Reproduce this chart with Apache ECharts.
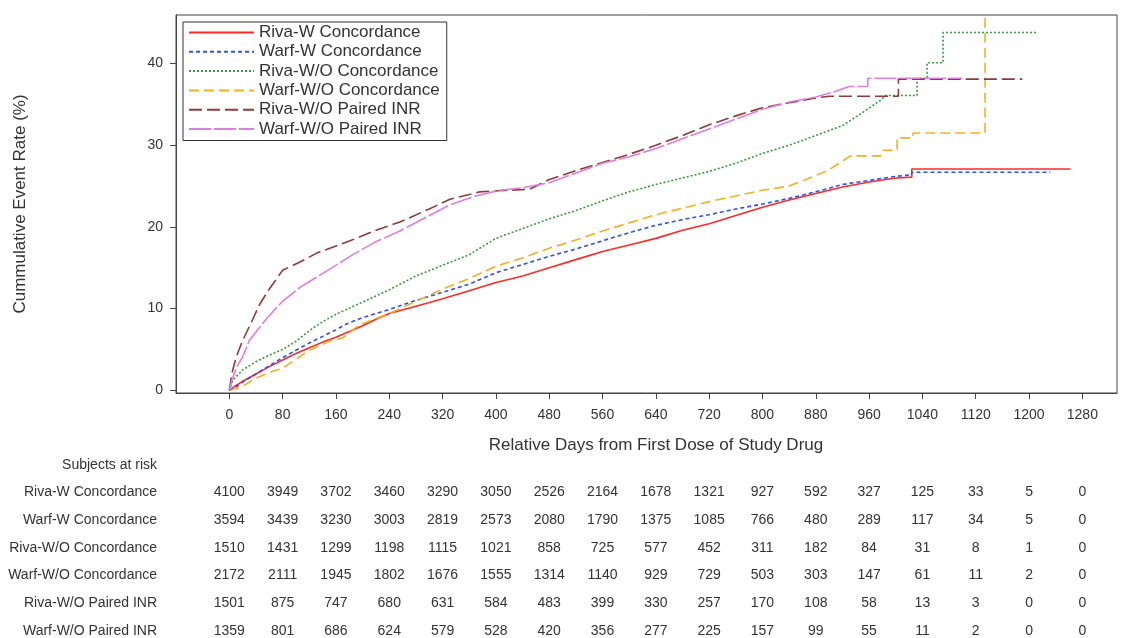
<!DOCTYPE html>
<html><head><meta charset="utf-8">
<script src="https://cdn.jsdelivr.net/npm/echarts@6/dist/echarts.min.js"></script>
<style>html,body{margin:0;padding:0;background:#fff}#c{width:1123px;height:638px}</style>
</head><body><div id="c"></div>
<script>
const seriesNames = ['Riva-W Concordance','Warf-W Concordance','Riva-W/O Concordance','Warf-W/O Concordance','Riva-W/O Paired INR','Warf-W/O Paired INR'];
const xTicks = [0,80,160,240,320,400,480,560,640,720,800,880,960,1040,1120,1200,1280];
const yTicks = [0,10,20,30,40];

const rivaW = [[0,0],[10,0.6],[20,1.1],[40,2.0],[60,2.9],[80,3.7],[100,4.5],[120,5.2],[140,5.9],[160,6.5],[180,7.2],[200,7.9],[220,8.7],[240,9.4],[280,10.3],[320,11.2],[360,12.2],[400,13.2],[440,14.0],[480,15.0],[520,16.0],[560,17.0],[600,17.8],[640,18.6],[680,19.6],[720,20.4],[760,21.4],[800,22.4],[840,23.3],[880,24.1],[920,24.9],[960,25.5],[1000,26.0],[1024,26.1],[1024,27.1],[1262,27.1]];
const warfW = [[0,0],[10,0.4],[20,1.0],[40,2.0],[60,3.0],[80,4.0],[100,4.9],[120,5.8],[140,6.6],[160,7.4],[175,8.1],[200,8.9],[240,9.9],[280,11.0],[320,12.0],[360,13.0],[400,14.4],[440,15.4],[480,16.4],[520,17.3],[560,18.3],[600,19.3],[640,20.2],[680,20.9],[720,21.5],[760,22.2],[800,22.8],[840,23.5],[880,24.3],[920,25.2],[960,25.7],[1000,26.2],[1024,26.4],[1024,26.7],[1232,26.7]];
const rivaWO = [[0,0],[5,1.2],[20,2.5],[40,3.5],[60,4.3],[80,5.0],[100,6.0],[120,7.3],[140,8.4],[160,9.3],[200,10.8],[240,12.3],[280,14.0],[320,15.3],[360,16.6],[400,18.6],[440,19.8],[480,21.0],[520,22.0],[560,23.2],[600,24.3],[640,25.2],[680,26.0],[720,26.8],[760,27.8],[800,29.0],[840,30.0],[880,31.2],[920,32.4],[950,34.0],[977,35.5],[985,36.1],[1032,36.1],[1032,38.2],[1047,38.2],[1047,40.1],[1071,40.1],[1071,43.8],[1212,43.8]];
const warfWO = [[0,0],[10,0.2],[20,0.5],[40,1.5],[60,2.2],[80,2.7],[100,3.8],[120,4.9],[150,6.0],[170,6.4],[195,8.0],[240,9.4],[280,10.9],[320,12.4],[360,13.7],[400,15.2],[440,16.2],[480,17.4],[520,18.4],[560,19.5],[600,20.5],[640,21.5],[680,22.3],[720,23.1],[760,23.8],[800,24.5],[840,25.0],[880,26.3],[900,27.0],[932,28.7],[977,28.7],[980,29.4],[1002,29.4],[1002,30.9],[1026,30.9],[1026,31.5],[1134,31.5],[1134,100]];
const rivaPaired = [[0,0],[4,2.1],[10,4.0],[20,6.1],[30,7.8],[46,10.6],[60,12.4],[80,14.7],[106,15.7],[131,16.8],[181,18.3],[220,19.6],[256,20.6],[300,22.2],[331,23.4],[376,24.3],[420,24.5],[450,24.6],[480,25.8],[520,26.9],[560,27.9],[600,28.9],[640,30.0],[680,31.2],[720,32.5],[760,33.6],[800,34.6],[840,35.2],[880,35.8],[900,36.0],[1004,36.0],[1004,38.1],[1190,38.1]];
const warfPaired = [[0,0],[5,1.5],[12,3.0],[20,4.1],[30,6.1],[56,8.8],[80,10.9],[106,12.6],[150,14.8],[181,16.4],[220,18.2],[256,19.5],[300,21.4],[331,22.7],[370,23.8],[406,24.5],[440,24.8],[480,25.4],[520,26.6],[560,27.8],[600,28.6],[640,29.6],[680,30.8],[720,32.0],[760,33.2],[800,34.4],[840,35.3],[880,35.9],[910,36.6],[930,37.2],[958,37.2],[958,38.2],[1100,38.2]];

const riskLabels = seriesNames;
const riskRivaW = [4100,3949,3702,3460,3290,3050,2526,2164,1678,1321,927,592,327,125,33,5,0];
const riskWarfW = [3594,3439,3230,3003,2819,2573,2080,1790,1375,1085,766,480,289,117,34,5,0];
const riskRivaWO = [1510,1431,1299,1198,1115,1021,858,725,577,452,311,182,84,31,8,1,0];
const riskWarfWO = [2172,2111,1945,1802,1676,1555,1314,1140,929,729,503,303,147,61,11,2,0];
const riskRivaPaired = [1501,875,747,680,631,584,483,399,330,257,170,108,58,13,3,0,0];
const riskWarfPaired = [1359,801,686,624,579,528,420,356,277,225,157,99,55,11,2,0,0];
const riskRows = [riskRivaW,riskWarfW,riskRivaWO,riskWarfWO,riskRivaPaired,riskWarfPaired];

const FONT = "'Liberation Sans', Arial, sans-serif";
const TXT = '#333';
const styles = [
  {color:'#ff2a2a', type:'solid', width:1.6},
  {color:'#3050f0', type:[4,3], width:1.6},
  {color:'#3a9a3a', type:[2,2], width:1.6},
  {color:'#f5b020', type:[10,5], width:1.6},
  {color:'#8e3b3b', type:[13,5], width:1.6},
  {color:'#e07de0', type:[22,3], width:1.6}
];
const datasets = [rivaW,warfW,rivaWO,warfWO,rivaPaired,warfPaired];

const chart = echarts.init(document.getElementById('c'), null, {renderer:'canvas'});
chart.setOption({
  animation:false,
  backgroundColor:'#fff',
  textStyle:{fontFamily:FONT},
  grid:{left:176, right:6, top:15, bottom:245, show:true, borderColor:'#444', borderWidth:1, backgroundColor:'transparent'},
  legend:{
    orient:'vertical', left:183, top:22, padding:[2,7,3,5], itemGap:2.3,
    itemWidth:65, itemHeight:14, borderColor:'#333', borderWidth:1,
    itemStyle:{opacity:0},
    textStyle:{fontSize:17, color:TXT, fontFamily:FONT},
    data:seriesNames
  },
  xAxis:{type:'value', min:-80, max:1332,
    axisLine:{show:true, onZero:false, lineStyle:{color:'#444'}},
    axisTick:{show:true, length:6, customValues:xTicks, lineStyle:{color:'#444'}},
    axisLabel:{customValues:xTicks, margin:15, fontSize:14, color:TXT, fontFamily:FONT, formatter:(v)=>String(v)},
    splitLine:{show:false}},
  yAxis:{type:'value', min:-0.33, max:45.95,
    axisLine:{show:true, onZero:false, lineStyle:{color:'#444'}},
    axisTick:{show:true, length:6, customValues:yTicks, lineStyle:{color:'#444'}},
    axisLabel:{customValues:yTicks, margin:13, fontSize:14, color:TXT, fontFamily:FONT, formatter:(v)=>String(v)},
    splitLine:{show:false}},
  series: datasets.map((d,i)=>({
    name:seriesNames[i], type:'line', data:d, symbol:'none', showSymbol:false, clip:true,
    lineStyle:styles[i], itemStyle:{color:styles[i].color}, z:2+i
  }))
});

const g = [];
g.push({type:'text', position:[656,445], style:{text:'Relative Days from First Dose of Study Drug', fill:TXT, font:'17px '+FONT, textAlign:'center', textVerticalAlign:'middle'}});
g.push({type:'text', rotation:Math.PI/2, position:[20,204], style:{text:'Cummulative Event Rate (%)', fill:TXT, font:'17px '+FONT, textAlign:'center', textVerticalAlign:'middle'}});
g.push({type:'text', position:[157,465], style:{text:'Subjects at risk', fill:TXT, font:'14px '+FONT, textAlign:'right', textVerticalAlign:'middle'}});
riskRows.forEach((row,r)=>{
  const y = 492.5 + r*27.7;
  g.push({type:'text', position:[157,y], style:{text:riskLabels[r], fill:TXT, font:'14px '+FONT, textAlign:'right', textVerticalAlign:'middle'}});
  row.forEach((v,k)=>{
    const x = chart.convertToPixel({xAxisIndex:0}, xTicks[k]);
    g.push({type:'text', position:[x,y], style:{text:String(v), fill:TXT, font:'14px '+FONT, textAlign:'center', textVerticalAlign:'middle'}});
  });
});
chart.setOption({graphic:{elements:g}});
</script>
</body></html>
